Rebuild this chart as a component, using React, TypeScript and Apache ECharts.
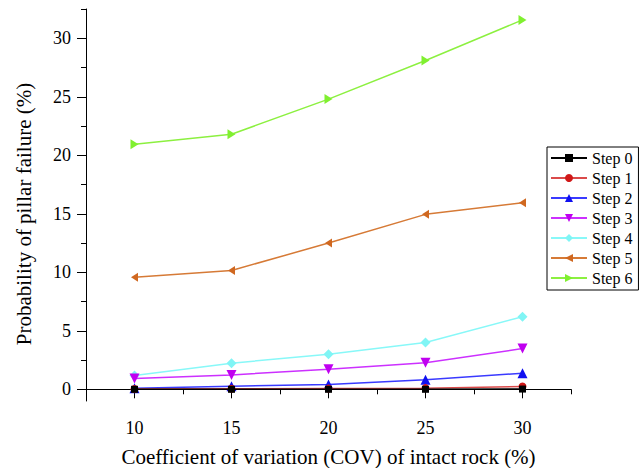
import React, { useEffect, useRef } from "react";
import * as echarts from "echarts";

const cov = [10, 15, 20, 25, 30];
const step0 = [0, 0, 0, 0, 0.02];
const step1 = [0.02, 0.04, 0.06, 0.1, 0.24];
const step2 = [0.1, 0.27, 0.42, 0.82, 1.38];
const step3 = [0.92, 1.23, 1.72, 2.27, 3.48];
const step4 = [1.17, 2.23, 3.0, 4.0, 6.2];
const step5 = [9.58, 10.15, 12.5, 14.95, 15.95];
const step6 = [20.95, 21.8, 24.8, 28.1, 31.57];
const seriesNames = ["Step 0", "Step 1", "Step 2", "Step 3", "Step 4", "Step 5", "Step 6"];
const seriesValues = [step0, step1, step2, step3, step4, step5, step6];

const xMajorTicks = [10, 15, 20, 25, 30];
const xMinorTicks = [7.5, 12.5, 17.5, 22.5, 27.5, 32.5];
const yMajorTicks = [0, 5, 10, 15, 20, 25, 30];
const yMinorTicks = [2.5, 7.5, 12.5, 17.5, 22.5, 27.5, 32.5];

const xName = "Coefficient of variation (COV) of intact rock (%)";
const yName = "Probability of pillar failure (%)";

const FONT = "Liberation Serif";

const styles = [
  { symbol: "rect", size: 7, rotate: 0, color: "#000000", line: "#000000" },
  { symbol: "circle", size: 8, rotate: 0, color: "#D01818", line: "#DA4A4A" },
  { symbol: "triangle", size: 10, rotate: 0, color: "#1010F0", line: "#3A3AFF" },
  { symbol: "triangle", size: 10, rotate: 180, color: "#C000F0", line: "#CC30FF" },
  { symbol: "diamond", size: 10, rotate: 0, color: "#80F5F5", line: "#88F8F8" },
  { symbol: "triangle", size: [9, 7], rotate: 90, color: "#D06820", line: "#D67A36" },
  { symbol: "triangle", size: [10, 8], rotate: -90, color: "#80F030", line: "#8CF040" },
];

export default function App() {
  const ref = useRef<HTMLDivElement>(null);
  useEffect(() => {
    if (!ref.current) return;
    const chart = echarts.init(ref.current, null, { renderer: "svg" });
    const axisBase = {
      type: "value" as const,
      splitLine: { show: false },
      axisLine: { show: true, lineStyle: { color: "#000", width: 1 } },
    };
    chart.setOption({
      animation: false,
      backgroundColor: "#ffffff",
      textStyle: { fontFamily: FONT },
      grid: {
        left: 86,
        top: 9,
        right: 72,
        bottom: 67,
        containLabel: false,
        outerBoundsMode: "none",
      },
      xAxis: [
        {
          ...axisBase,
          position: "bottom",
          min: 7.5,
          max: 32.5,
          axisTick: { show: true, inside: false, length: 9, customValues: xMajorTicks, lineStyle: { color: "#000" } },
          axisLabel: { show: true, customValues: xMajorTicks, margin: 18, color: "#000", fontSize: 18, fontFamily: FONT },
          name: xName,
          nameLocation: "middle",
          nameGap: 45,
          nameTextStyle: { color: "#000", fontSize: 21, fontFamily: FONT },
        },
        {
          ...axisBase,
          position: "bottom",
          min: 7.5,
          max: 32.5,
          axisLine: { show: false },
          axisTick: { show: true, inside: false, length: 5, customValues: xMinorTicks, lineStyle: { color: "#000" } },
          axisLabel: { show: false },
        },
      ],
      yAxis: [
        {
          ...axisBase,
          position: "left",
          min: -1,
          max: 32.5,
          axisTick: { show: true, inside: false, length: 9, customValues: yMajorTicks, lineStyle: { color: "#000" } },
          axisLabel: { show: true, customValues: yMajorTicks, margin: 15, color: "#000", fontSize: 18, fontFamily: FONT },
        },
        {
          ...axisBase,
          position: "left",
          min: -1,
          max: 32.5,
          axisLine: { show: false },
          axisTick: { show: true, inside: false, length: 5, customValues: yMinorTicks, lineStyle: { color: "#000" } },
          axisLabel: { show: false },
        },
      ],
      legend: {
        show: true,
        orient: "vertical",
        left: 547,
        top: 147,
        padding: [3, 6, 4, 3],
        itemGap: 4,
        itemWidth: 36,
        itemHeight: 10,
        borderColor: "#000",
        borderWidth: 1,
        backgroundColor: "#fff",
        selectedMode: false,
        textStyle: { color: "#000", fontSize: 16, fontFamily: FONT },
        data: seriesNames,
      },
      graphic: [
        {
          type: "text",
          x: 24,
          y: 214,
          rotation: Math.PI / 2,
          style: {
            text: yName,
            fill: "#000",
            font: `21px ${FONT}`,
            textAlign: "center",
            textVerticalAlign: "middle",
          },
        },
      ],
      series: seriesNames.map((name, i) => ({
        name,
        type: "line",
        xAxisIndex: 0,
        yAxisIndex: 0,
        data: cov.map((c, j) => [c, seriesValues[i][j]]),
        symbol: styles[i].symbol,
        symbolSize: styles[i].size,
        symbolRotate: styles[i].rotate,
        showAllSymbol: true,
        itemStyle: { color: styles[i].color },
        lineStyle: { color: styles[i].line, width: 1.5 },
        z: 2 + (7 - i),
      })),
    });
    return () => chart.dispose();
  }, []);
  return (
    <div
      ref={ref}
      style={{ position: "fixed", left: 0, top: 0, width: 643, height: 468, overflow: "hidden" }}
    />
  );
}
